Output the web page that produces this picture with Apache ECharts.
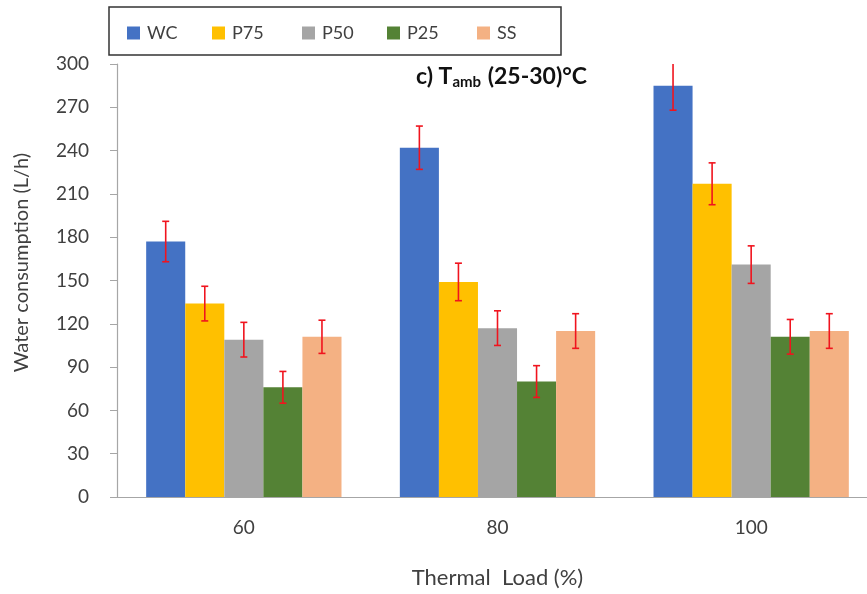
<!DOCTYPE html>
<html style="height: 100%">
<head>
    <meta charset="utf-8">
</head>
<body style="height: 100%; margin: 0; background: #fff">
    <div id="container" style="width: 867px; height: 594px"></div>

    <script src="https://cdn.jsdelivr.net/npm/echarts@6/dist/echarts.min.js"></script>
    <script type="text/javascript">

        // data
        const loads = ['60', '80', '100'];
        const seriesNames = ['WC', 'P75', 'P50', 'P25', 'SS'];
        const wcValues = [177, 242, 285];
        const p75Values = [134, 149, 217];
        const p50Values = [109, 117, 161];
        const p25Values = [76, 80, 111];
        const ssValues = [111, 115, 115];
        const wcErr = [14, 15, 17];
        const p75Err = [12, 13, 14.5];
        const p50Err = [12, 12, 13];
        const p25Err = [11, 11, 12];
        const ssErr = [11.5, 12, 12];
        const yTicks = [0, 30, 60, 90, 120, 150, 180, 210, 240, 270, 300];

        const colors = ['#4472C4', '#FFC000', '#A5A5A5', '#548235', '#F4B183'];
        const values = [wcValues, p75Values, p50Values, p25Values, ssValues];
        const errors = [wcErr, p75Err, p50Err, p25Err, ssErr];

        const FONT = 'Lato, "Noto Sans", sans-serif';
        const TEXT = '#404040';
        const BAR_FRAC = 0.154;   // bar width as share of category band

        let dom = document.getElementById('container');
        let myChart = echarts.init(dom, null, { renderer: 'canvas' });

        let series = seriesNames.map((name, k) => ({
            name: name,
            type: 'bar',
            barWidth: (BAR_FRAC * 100) + '%',
            barGap: '0%',
            itemStyle: { color: colors[k] },
            data: values[k]
        }));

        let errData = [];
        seriesNames.forEach((name, k) => {
            loads.forEach((c, i) => {
                errData.push([i, k, values[k][i], errors[k][i]]);
            });
        });

        series.push({
            type: 'custom',
            clip: true,
            z: 10,
            renderItem: function (params, api) {
                let cat = api.value(0);
                let k = api.value(1);
                let v = api.value(2);
                let e = api.value(3);
                let band = api.size([1, 0])[0];
                let w = band * BAR_FRAC;
                let x = api.coord([cat, v])[0] + (k - 2) * w;
                let hi = api.coord([cat, v + e])[1];
                let lo = api.coord([cat, v - e])[1];
                let cap = 3.5;
                let style = { stroke: '#F0141E', lineWidth: 1.6 };
                let cs = params.coordSys;
                return {
                    type: 'group',
                    clipPath: { type: 'rect', shape: { x: cs.x, y: cs.y, width: cs.width, height: cs.height } },
                    children: [
                        { type: 'line', shape: { x1: x, y1: hi, x2: x, y2: lo }, style: style },
                        { type: 'line', shape: { x1: x - cap, y1: hi, x2: x + cap, y2: hi }, style: style },
                        { type: 'line', shape: { x1: x - cap, y1: lo, x2: x + cap, y2: lo }, style: style }
                    ]
                };
            },
            data: errData
        });

        const legendLefts = [127, 212, 302, 387, 477];
        let legends = seriesNames.map((name, k) => ({
            data: [name],
            left: legendLefts[k],
            top: 24,
            padding: 0,
            itemWidth: 13,
            itemHeight: 13,
            itemGap: 0,
            icon: 'rect',
            selectedMode: false,
            textStyle: { fontFamily: FONT, fontSize: 18, color: TEXT, padding: [0, 0, 0, 2] }
        }));

        let option = {
            animation: false,
            backgroundColor: '#fff',
            legend: legends,
            graphic: [{
                type: 'rect',
                shape: { x: 109, y: 7, width: 452, height: 48 },
                style: { fill: 'none', stroke: '#333', lineWidth: 1.5 },
                silent: true
            }, {
                // chart title, T with subscript "amb"
                type: 'text',
                x: 416,
                y: 64,
                silent: true,
                style: {
                    text: 'c) T{sub|amb} (25-30)°C',
                    font: 'bold 23px ' + FONT,
                    fill: '#111',
                    rich: {
                        sub: { fontFamily: FONT, fontSize: 15, fontWeight: 'bold', fill: '#111', padding: [11, 1, 0, 0] }
                    }
                }
            }],
            grid: {
                left: 117,
                top: 64,
                width: 761,
                bottom: 97,
                outerBoundsMode: 'none'
            },
            xAxis: {
                type: 'category',
                data: loads,
                name: 'Thermal  Load (%)',
                nameLocation: 'middle',
                nameGap: 70,
                nameTextStyle: { fontFamily: FONT, fontSize: 22, color: TEXT },
                axisLine: { lineStyle: { color: '#A6A6A6', width: 1.2 } },
                axisTick: { show: false },
                axisLabel: { fontFamily: FONT, fontSize: 19, color: TEXT, margin: 21 }
            },
            yAxis: {
                type: 'value',
                min: yTicks[0],
                max: yTicks[yTicks.length - 1],
                interval: yTicks[1] - yTicks[0],
                name: 'Water consumption (L/h)',
                nameLocation: 'middle',
                nameGap: 85,
                nameTextStyle: { fontFamily: FONT, fontSize: 20, color: TEXT, padding: [0, 0, 0, 36] },
                axisLine: { show: true, lineStyle: { color: '#A6A6A6', width: 1.2 } },
                axisTick: { show: true, length: 7, lineStyle: { color: '#A6A6A6' } },
                splitLine: { show: false },
                axisLabel: { fontFamily: FONT, fontSize: 19, color: TEXT, margin: 28 }
            },
            series: series
        };

        myChart.setOption(option);
    </script>
</body>
</html>
